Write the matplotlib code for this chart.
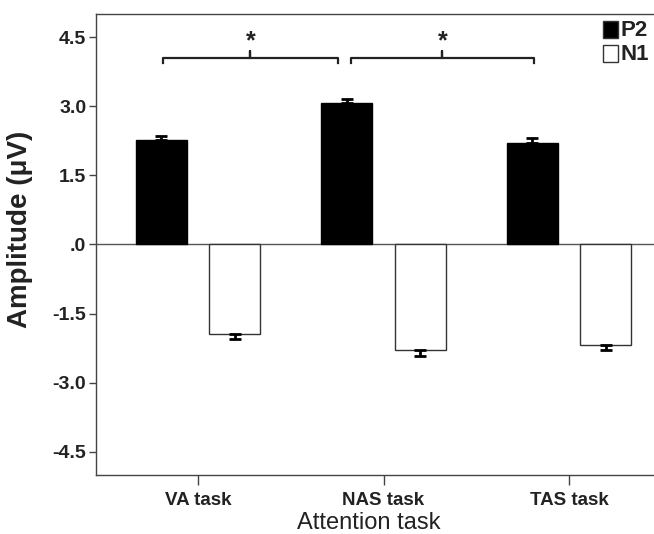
import numpy as np
import matplotlib
matplotlib.use("Agg")
import matplotlib.pyplot as plt
from matplotlib.patches import Rectangle

plt.rcParams["font.family"] = ["Liberation Sans", "DejaVu Sans"]

# data
tasks = ["VA task", "NAS task", "TAS task"]
p2_mean = [2.27, 3.07, 2.21]
p2_err = [0.08, 0.09, 0.10]
n1_mean = [-1.95, -2.28, -2.17]
n1_err = [0.10, 0.13, 0.11]
y_ticks = [-4.5, -3.0, -1.5, 0.0, 1.5, 3.0, 4.5]
y_tick_labels = ["-4.5", "-3.0", "-1.5", ".0", "1.5", "3.0", "4.5"]

x = np.arange(len(tasks))
width = 0.275
offset = 0.198

fig = plt.figure(figsize=(6.54, 5.34), dpi=100)
ax = fig.add_axes([0.1468, 0.1105, 0.87, 0.8633])

# bars
ax.bar(x - offset, p2_mean, width, color="black", edgecolor="black", linewidth=1.0, zorder=3)
ax.bar(x + offset, n1_mean, width, color="white", edgecolor="#333333", linewidth=1.0, zorder=3)

# one-sided error bars
ax.errorbar(x - offset, p2_mean, yerr=[np.zeros(3), p2_err], fmt="none",
            ecolor="black", elinewidth=2, capsize=4.5, capthick=2, zorder=4)
ax.errorbar(x + offset, n1_mean, yerr=[n1_err, np.zeros(3)], fmt="none",
            ecolor="black", elinewidth=2, capsize=4.5, capthick=2, zorder=4)

# zero line
ax.axhline(0, color="#555555", linewidth=1.0, zorder=2)

# significance brackets between P2 bars
def bracket(x0, x1, y, text):
    h = 0.11
    xm = (x0 + x1) / 2
    ax.plot([x0, x0, xm, xm, xm, x1, x1], [y - h, y, y, y + h * 1.4, y, y, y - h],
            color="#222222", linewidth=1.6, solid_joinstyle="round", zorder=5)
    ax.text(xm, y + 0.1, text, ha="center", va="bottom", fontsize=18,
            fontweight="bold", color="#222222")

bracket(x[0] - offset + 0.01, x[1] - offset - 0.05, 4.05, "*")
bracket(x[1] - offset + 0.02, x[2] - offset + 0.01, 4.05, "*")

ax.set_ylim(-5.0, 5.0)
ax.set_xlim(-0.549, 2.516)
ax.set_yticks(y_ticks)
ax.set_yticklabels(y_tick_labels, fontsize=14, fontweight="bold")
ax.set_xticks(x)
ax.set_xticklabels(tasks, fontsize=13.5, fontweight="bold")
ax.tick_params(axis="x", length=7, width=1, pad=5, colors="#222222", color="#444444")
ax.tick_params(axis="y", length=5, width=1, pad=2, colors="#222222", color="#444444")

for s in ["left", "bottom", "top"]:
    ax.spines[s].set_color("#444444")
    ax.spines[s].set_linewidth(1.0)
ax.spines["right"].set_visible(False)

# axis titles placed in figure coords to fit the tight margins
fig.text(0.5 * (0.1468 + 1.0) - 0.01, 0.009, "Attention task", fontsize=17,
         ha="center", va="baseline", color="#222222")
fig.text(0.030, 0.571, "Amplitude (\u03bcV)", fontsize=20, fontweight="bold",
         rotation=90, ha="center", va="center", color="#222222")

# legend squares in the top right corner
for i, (lab, fc) in enumerate([("P2", "black"), ("N1", "white")]):
    y_top = 1 - (21 + i * 24) / 534
    fig.patches.append(Rectangle((603 / 654, y_top - 17 / 534), 15 / 654, 17 / 534,
                                 transform=fig.transFigure, facecolor=fc,
                                 edgecolor="#333333", linewidth=1.0))
    fig.text(620 / 654, y_top - 9 / 534, lab, fontsize=16, fontweight="bold",
             va="center", ha="left", color="#222222")

fig.savefig("out.png", dpi=100)
